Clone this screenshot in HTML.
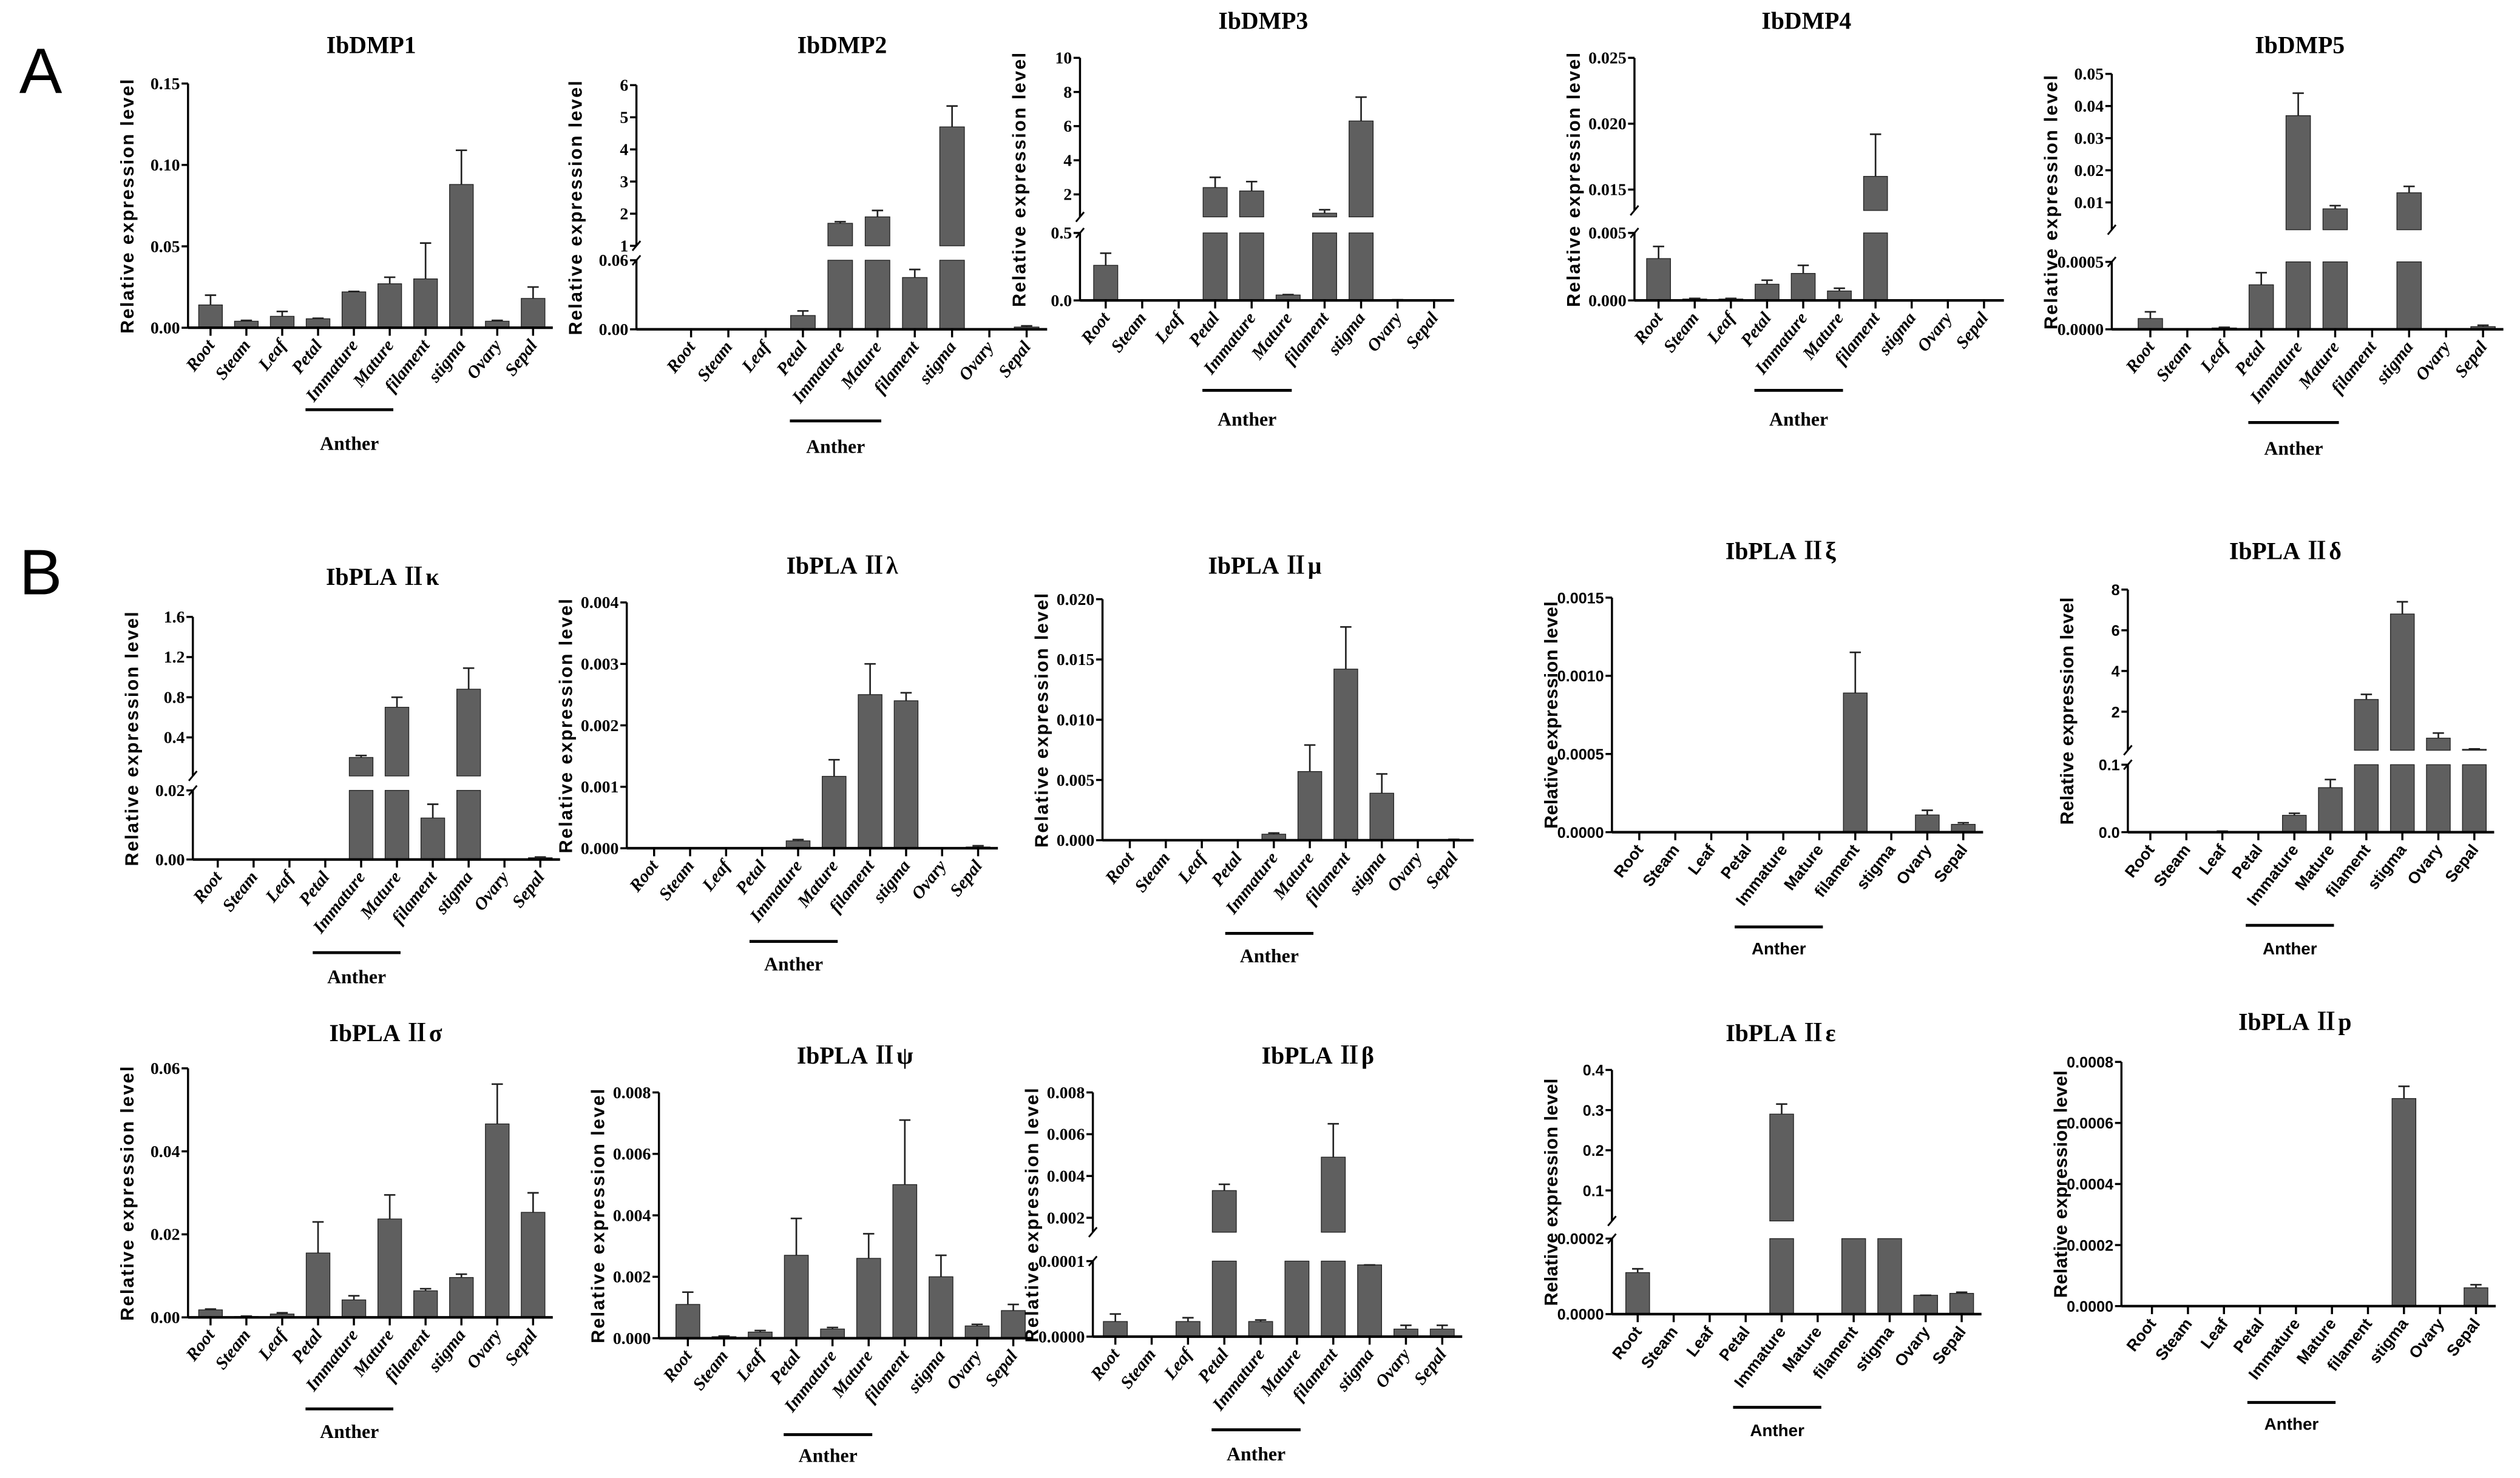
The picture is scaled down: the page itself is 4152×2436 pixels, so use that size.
<!DOCTYPE html>
<html><head><meta charset="utf-8"><style>
html,body{margin:0;padding:0;background:#fff;}
svg{display:block;}
</style></head><body>
<svg id="fig" xmlns="http://www.w3.org/2000/svg" width="4152" height="2436" viewBox="0 0 1568 920" preserveAspectRatio="none">
<rect x="0" y="0" width="1568" height="920" fill="#fff"/>
<text x="12" y="58" font-family="Liberation Sans, sans-serif" font-size="40">A</text>
<text x="12" y="370" font-family="Liberation Sans, sans-serif" font-size="40">B</text>
</svg>
<script>
const categories=["Root","Steam","Leaf","Petal","Immature","Mature","filament","stigma","Ovary","Sepal"];
const dmp1Vals=[0.014,0.004,0.007,0.0055,0.022,0.027,0.030,0.088,0.004,0.018];
const dmp1Errs=[0.006,0.0005,0.003,0.0003,0.0003,0.004,0.022,0.021,0.0005,0.007];
const dmp2Vals=[0,0,0,0.012,1.7,1.9,0.045,4.7,0,0.002];
const dmp2Errs=[0,0,0,0.004,0.05,0.2,0.007,0.65,0,0.001];
const dmp3Vals=[0.26,0,0,2.4,2.2,0.04,0.9,6.3,0.005,0];
const dmp3Errs=[0.09,0,0,0.6,0.55,0.003,0.2,1.4,0,0];
const dmp4Vals=[0.0031,0.0001,0.0001,0.0012,0.002,0.0007,0.016,0,0,0];
const dmp4Errs=[0.0009,0.00005,0.00005,0.0003,0.0006,0.0002,0.0032,0,0,0];
const dmp5Vals=[0.00008,0,0.00001,0.00033,0.037,0.008,0,0.013,0,0.00002];
const dmp5Errs=[0.00005,0,0.000005,0.00009,0.007,0.001,0,0.002,0,0.00001];
const kappaVals=[0,0,0,0,0.2,0.7,0.012,0.88,0,0.0005];
const kappaErrs=[0,0,0,0,0.02,0.1,0.004,0.21,0,0.0002];
const lambdaVals=[0,0,0,0,0.00012,0.00117,0.0025,0.0024,0.000005,0.00002];
const lambdaErrs=[0,0,0,0,0.00002,0.00027,0.0005,0.00013,0,0.00002];
const muVals=[0,0,0,0,0.0005,0.0057,0.0142,0.0039,0,0.00005];
const muErrs=[0,0,0,0,0.0001,0.0022,0.0035,0.0016,0,0.00002];
const xiVals=[0,0,0,0,0,0,0.00089,0,0.00011,0.00005];
const xiErrs=[0,0,0,0,0,0,0.00026,0,0.00003,0.00001];
const deltaVals=[0.0005,0,0.001,0.0003,0.025,0.066,2.6,6.8,0.7,0.15];
const deltaErrs=[0,0,0.0005,0,0.003,0.012,0.25,0.6,0.25,0.02];
const sigmaVals=[0.0018,0.0002,0.0008,0.0155,0.0042,0.0237,0.0064,0.0096,0.0466,0.0253];
const sigmaErrs=[0.0002,0.0001,0.0003,0.0075,0.001,0.0058,0.0005,0.0008,0.0096,0.0047];
const psiVals=[0.0011,0.00005,0.0002,0.0027,0.0003,0.0026,0.005,0.002,0.0004,0.0009];
const psiErrs=[0.0004,0.00002,0.00005,0.0012,0.00005,0.0008,0.0021,0.0007,0.00005,0.0002];
const betaVals=[0.00002,0,0.00002,0.0033,0.00002,0.00012,0.0049,0.000095,0.00001,0.00001];
const betaErrs=[0.00001,0,0.000005,0.0003,0.000002,0.000005,0.0016,0,0.000005,0.000005];
const epsVals=[0.00011,0,0,0,0.29,0,0.00021,0.00023,0.00005,0.000055];
const epsErrs=[0.00001,0,0,0,0.025,0,0,0.000005,0,0.000003];
const rhoVals=[0,0,0,0,0,0,0,0.00068,0,0.00006];
const rhoErrs=[0,0,0,0,0,0,0,0.00004,0,0.00001];

const panels=[
{name:"ibdmp1",title:"IbDMP1",tx:231,ty:33,ax:117,b0:131,step:22.3,yb:204,sans:false,aY:255,aL:280,vals:dmp1Vals,errs:dmp1Errs,
 low:{v1:0.15,y1:52,top:52,ticks:[0,0.05,0.1,0.15],labels:["0.00","0.05","0.10","0.15"]}},
{name:"ibdmp2",title:"IbDMP2",tx:524,ty:33,ax:396,b0:430,step:23.2,yb:205,sans:false,aY:262,aL:282,vals:dmp2Vals,errs:dmp2Errs,
 low:{v1:0.06,y1:162,top:162,ticks:[0,0.06],labels:["0.00","0.06"]},
 up:{v0:1,y0:153,v1:6,y1:53,bottom:153,top:53,ticks:[1,2,3,4,5,6],labels:["1","2","3","4","5","6"]}},
{name:"ibdmp3",title:"IbDMP3",tx:786,ty:18,ax:672,b0:688,step:22.7,yb:187,sans:false,aY:243,aL:265,vals:dmp3Vals,errs:dmp3Errs,
 low:{v1:0.5,y1:145,top:145,ticks:[0,0.5],labels:["0.0","0.5"]},
 up:{v0:2,y0:121,v1:10,y1:36,bottom:135,top:36,ticks:[2,4,6,8,10],labels:["2","4","6","8","10"]}},
{name:"ibdmp4",title:"IbDMP4",tx:1124,ty:18,ax:1017,b0:1032,step:22.5,yb:187,sans:false,aY:243,aL:265,vals:dmp4Vals,errs:dmp4Errs,
 low:{v1:0.005,y1:145,top:145,ticks:[0,0.005],labels:["0.000","0.005"]},
 up:{v0:0.015,y0:118,v1:0.025,y1:36,bottom:131,top:36,ticks:[0.015,0.02,0.025],labels:["0.015","0.020","0.025"]}},
{name:"ibdmp5",title:"IbDMP5",tx:1431,ty:33,ax:1314,b0:1338,step:23,yb:205,sans:false,aY:263,aL:283,vals:dmp5Vals,errs:dmp5Errs,
 low:{v1:0.0005,y1:163,top:163,ticks:[0,0.0005],labels:["0.0000","0.0005"]},
 up:{v0:0.01,y0:126,v1:0.05,y1:46,bottom:143,top:46,ticks:[0.01,0.02,0.03,0.04,0.05],labels:["0.01","0.02","0.03","0.04","0.05"]}},
{name:"iipla-kappa",title:"IbPLA Ⅱκ",tx:238,ty:364,ax:120,b0:135.5,step:22.3,yb:535,sans:false,aY:593,aL:612,vals:kappaVals,errs:kappaErrs,
 low:{v1:0.02,y1:492,top:492,ticks:[0,0.02],labels:["0.00","0.02"]},
 up:{v0:0.4,y0:459,v1:1.6,y1:384,bottom:483,top:384,ticks:[0.4,0.8,1.2,1.6],labels:["0.4","0.8","1.2","1.6"]}},
{name:"iipla-lambda",title:"IbPLA Ⅱλ",tx:524,ty:357,ax:390,b0:407,step:22.4,yb:528,sans:false,aY:586,aL:604,vals:lambdaVals,errs:lambdaErrs,
 low:{v1:0.004,y1:375,top:375,ticks:[0,0.001,0.002,0.003,0.004],labels:["0.000","0.001","0.002","0.003","0.004"]}},
{name:"iipla-mu",title:"IbPLA Ⅱμ",tx:787,ty:357,ax:686,b0:703,step:22.4,yb:523,sans:false,aY:581,aL:599,vals:muVals,errs:muErrs,
 low:{v1:0.02,y1:373,top:373,ticks:[0,0.005,0.01,0.015,0.02],labels:["0.000","0.005","0.010","0.015","0.020"]}},
{name:"iipla-xi",title:"IbPLA Ⅱξ",tx:1108,ty:348,ax:1003,b0:1020,step:22.4,yb:518,sans:true,aY:577,aL:594,vals:xiVals,errs:xiErrs,
 low:{v1:0.0015,y1:372,top:372,ticks:[0,0.0005,0.001,0.0015],labels:["0.0000","0.0005","0.0010","0.0015"]}},
{name:"iipla-delta",title:"IbPLA Ⅱδ",tx:1422,ty:348,ax:1324,b0:1338,step:22.4,yb:518,sans:true,aY:576,aL:594,vals:deltaVals,errs:deltaErrs,
 low:{v1:0.1,y1:476,top:476,ticks:[0,0.1],labels:["0.0","0.1"]},
 up:{v0:2,y0:443,v1:8,y1:367,bottom:467,top:367,ticks:[2,4,6,8],labels:["2","4","6","8"]}},
{name:"iipla-sigma",title:"IbPLA Ⅱσ",tx:240,ty:648,ax:117,b0:131,step:22.3,yb:820,sans:false,aY:877,aL:895,vals:sigmaVals,errs:sigmaErrs,
 low:{v1:0.06,y1:665,top:665,ticks:[0,0.02,0.04,0.06],labels:["0.00","0.02","0.04","0.06"]}},
{name:"iipla-psi",title:"IbPLA Ⅱψ",tx:532,ty:662,ax:410,b0:428,step:22.5,yb:833,sans:false,aY:893,aL:910,vals:psiVals,errs:psiErrs,
 low:{v1:0.008,y1:680,top:680,ticks:[0,0.002,0.004,0.006,0.008],labels:["0.000","0.002","0.004","0.006","0.008"]}},
{name:"iipla-beta",title:"IbPLA Ⅱβ",tx:820,ty:662,ax:680,b0:694,step:22.6,yb:832,sans:false,aY:890,aL:909,vals:betaVals,errs:betaErrs,
 low:{v1:0.0001,y1:785,top:785,ticks:[0,0.0001],labels:["0.0000","0.0001"]},
 up:{v0:0.002,y0:758,v1:0.008,y1:680,bottom:767,top:680,ticks:[0.002,0.004,0.006,0.008],labels:["0.002","0.004","0.006","0.008"]}},
{name:"iipla-epsilon",title:"IbPLA Ⅱε",tx:1108,ty:648,ax:1003,b0:1019,step:22.4,yb:818,sans:true,aY:876,aL:894,vals:epsVals,errs:epsErrs,
 low:{v1:0.0002,y1:771,top:771,ticks:[0,0.0002],labels:["0.0000","0.0002"]},
 up:{v0:0.1,y0:741,v1:0.4,y1:666,bottom:760,top:666,ticks:[0.1,0.2,0.3,0.4],labels:["0.1","0.2","0.3","0.4"]}},
{name:"iipla-rho",title:"IbPLA Ⅱp",tx:1428,ty:641,ax:1320,b0:1339,step:22.4,yb:813,sans:true,aY:873,aL:890,vals:rhoVals,errs:rhoErrs,
 low:{v1:0.0008,y1:661,top:661,ticks:[0,0.0002,0.0004,0.0006,0.0008],labels:["0.0000","0.0002","0.0004","0.0006","0.0008"]}}
];

const NS="http://www.w3.org/2000/svg";
const svg=document.getElementById('fig');
function el(tag,attrs,parent){const e=document.createElementNS(NS,tag);for(const k in attrs)e.setAttribute(k,attrs[k]);(parent||svg).appendChild(e);return e;}
const SERIF='"Liberation Serif","Noto Serif CJK SC",serif';
const SANS='"Liberation Sans","Noto Sans CJK SC",sans-serif';

panels.forEach(p=>{
  const g=el('g',{});
  
  
  const yL=v=>p.yb-(v/p.low.v1)*(p.yb-p.low.y1);
  const lowTopVal=(p.yb-p.low.top)/(p.yb-p.low.y1)*p.low.v1;
  let yU=null,upBotVal=null;
  if(p.up){const u=p.up;yU=v=>u.y0-(v-u.v0)/(u.v1-u.v0)*(u.y0-u.y1);upBotVal=u.v0-(u.bottom-u.y0)/(u.y0-u.y1)*(u.v1-u.v0);}
  const t=el('text',{x:p.tx,y:p.ty,'text-anchor':'middle','font-family':SERIF,'font-weight':'bold','font-size':15},g);
  t.textContent=p.title;
  
  
  const lw=1.3;
  const ay=el('line',{x1:p.ax,y1:p.yb,x2:p.ax,y2:p.low.top,stroke:'#000','stroke-width':lw},g);
  
  
  if(p.up){
    const ay2=el('line',{x1:p.ax,y1:p.up.bottom,x2:p.ax,y2:p.up.top,stroke:'#000','stroke-width':lw},g);
    
    
    [p.up.bottom,p.low.top].forEach(yy=>{
      const s=el('line',{x1:p.ax-2.5,y1:yy+3,x2:p.ax+2.5,y2:yy-3,stroke:'#000','stroke-width':1.1},g);
      
      
    });
  }
  const tf=p.sans?SANS:SERIF;
  const tickSet=(ticks,labels,fy)=>ticks.forEach((v,i)=>{
    const yy=fy(v);
    el('line',{x1:p.ax-4,y1:yy,x2:p.ax,y2:yy,stroke:'#000','stroke-width':lw},g);
    const tl=el('text',{x:p.ax-5,y:yy+3.5,'text-anchor':'end','font-family':tf,'font-weight':'bold','font-size':p.sans?9.5:10.5},g);
    tl.textContent=labels[i];
    
    
  });
  tickSet(p.low.ticks,p.low.labels,yL);
  if(p.up) tickSet(p.up.ticks,p.up.labels,yU);
  const ymid=(p.yb+(p.up?p.up.top:p.low.top))/2;
  const yt=el('text',{x:0,y:0,transform:`translate(${p.ax-34},${ymid}) rotate(-90)`,'text-anchor':'middle','font-family':SANS,'font-weight':'bold','font-size':11.5,'letter-spacing':p.sans?0.2:0.9},g);
  yt.textContent='Relative expression level';
  
  
  const bw=p.step*0.66;
  p.vals.forEach((v,i)=>{
    const cx=p.b0+i*p.step, e=p.errs[i];
    const x=cx-bw/2;
    const topL=v<=lowTopVal?yL(v):p.low.top;
    const r=el('rect',{x:x,y:topL,width:bw,height:Math.max(0,p.yb-topL),fill:'#5f5f5f',stroke:'#222','stroke-width':0.5},g);
    
    
    if(p.up && v>upBotVal){
      const yt2=yU(v);
      const r2=el('rect',{x:x,y:yt2,width:bw,height:Math.max(0,p.up.bottom-yt2),fill:'#5f5f5f',stroke:'#222','stroke-width':0.5},g);
      
      
    }
    let y0=null,y1=null;
    if(v<=lowTopVal){y0=yL(v);y1=yL(Math.min(v+e,lowTopVal));}
    else if(p.up && v>=upBotVal){y0=yU(v);y1=yU(v+e);}
    if(y0!==null){
      const eb=el('path',{d:`M${cx},${y0}V${y1}M${cx-3.5},${y1}H${cx+3.5}`,stroke:'#222','stroke-width':1,fill:'none'},g);
      
      
    }
    el('line',{x1:cx,y1:p.yb,x2:cx,y2:p.yb+5,stroke:'#000','stroke-width':lw},g);
    const cl=el('text',{x:0,y:0,transform:`translate(${cx+3},${p.yb+11}) rotate(-52)`,'text-anchor':'end','font-family':tf,'font-weight':'bold','font-style':p.sans?'normal':'italic','font-size':p.sans?10:11},g);
    cl.textContent=categories[i];
    
    
  });
  const xe=p.b0+9*p.step+p.step*0.55;
  const ax=el('line',{x1:p.ax,y1:p.yb,x2:xe,y2:p.yb,stroke:'#000','stroke-width':1.6},g);
  
  
  const a1=p.b0+4*p.step-p.step*1.35, a2=p.b0+5*p.step+p.step*0.1;
  const al=el('line',{x1:a1,y1:p.aY,x2:a2,y2:p.aY,stroke:'#000','stroke-width':1.8},g);
  
  
  const at=el('text',{x:(a1+a2)/2,y:p.aL,'text-anchor':'middle','font-family':p.sans?SANS:SERIF,'font-weight':'bold','font-size':p.sans?10.5:12},g);
  at.textContent='Anther';
  
  
});
</script>
</body></html>
